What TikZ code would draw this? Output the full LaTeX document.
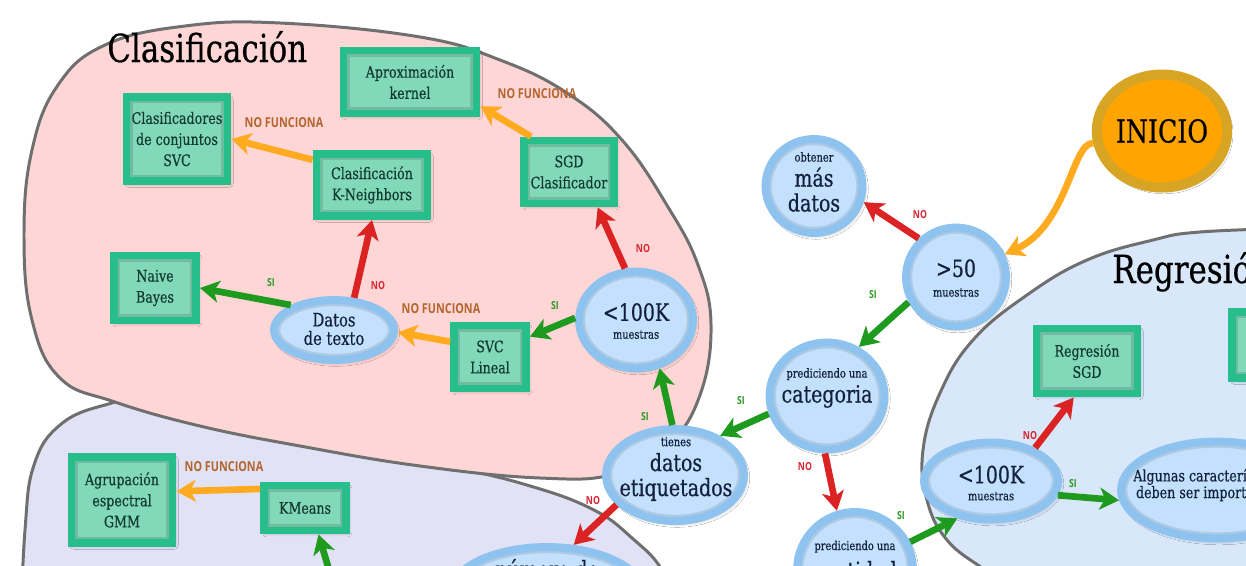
\documentclass[tikz,border=0pt]{standalone}
\usepackage{fontspec}
\setmainfont{DejaVu Serif}[FakeStretch=0.8,FakeBold=0.5]
\newfontfamily\lblfont{Open Sans}[FakeStretch=0.79]
\usetikzlibrary{arrows.meta,shapes.geometric,calc,shadows.blur}
\definecolor{pinkreg}{HTML}{FFD6D6}
\definecolor{lavreg}{HTML}{E2E2F6}
\definecolor{bluereg}{HTML}{D8E7FA}
\definecolor{regline}{HTML}{6F6F6F}
\definecolor{boxline}{HTML}{27BE8C}
\definecolor{boxfill}{HTML}{82D9BA}
\definecolor{boxtext}{HTML}{123A30}
\definecolor{ringblue}{HTML}{8EC3F0}
\definecolor{bfill}{HTML}{C3E0FC}
\definecolor{btext}{HTML}{14213D}
\definecolor{inifill}{HTML}{FFA400}
\definecolor{iniring}{HTML}{D8A424}
\definecolor{agreen}{HTML}{1E9B1E}
\definecolor{ared}{HTML}{DC2323}
\definecolor{aorange}{HTML}{FFAA1F}
\definecolor{sicol}{HTML}{2F9A27}
\definecolor{nocol}{HTML}{D92632}
\definecolor{nfcol}{HTML}{B3652E}
\newcommand\smtxt[1]{{\fontsize{7}{8}\selectfont #1}}
\begin{document}
\begin{tikzpicture}[x=0.02cm,y=-0.02cm,
  region/.style={draw=regline,line width=1.7pt},
  boxinner/.style={path picture={\draw[black,opacity=.13,line width=7pt] (path picture bounding box.south west) rectangle (path picture bounding box.north east);}},
  ellinner/.style={path picture={\draw[black,opacity=.10,line width=7pt] let \p1=($(path picture bounding box.north east)-(path picture bounding box.center)$) in (path picture bounding box.center) ellipse [x radius=\x1, y radius=\y1];}},
  sh/.style={blur shadow={shadow xshift=1.2pt,shadow yshift=-1.5pt,shadow opacity=30,shadow blur steps=6}},
  mbox/.style={rectangle,draw=boxline,line width=4.5pt,fill=boxfill,inner sep=0pt,align=center,text=boxtext,font=\fontsize{9}{12}\selectfont,sh,boxinner},
  bnode/.style={ellipse,draw=ringblue,line width=4.5pt,fill=bfill,inner sep=0pt,sh,ellinner},
  btxt/.style={align=center,text=btext,inner sep=0pt,font=\fontsize{13.5}{14.2}\selectfont},
  lbl/.style={inner sep=0pt,font=\lblfont\bfseries\fontsize{6.3}{7}\selectfont},
  sil/.style={lbl,text=sicol},
  nol/.style={lbl,text=nocol},
  nfl/.style={inner sep=0pt,text=nfcol,font=\lblfont\bfseries\fontsize{7.8}{8}\selectfont},
  arr/.style={line width=3.8pt,-{Stealth[length=11pt,width=12.5pt,inset=3pt]}},
  ga/.style={arr,draw=agreen},
  ra/.style={arr,draw=ared},
  oa/.style={arr,draw=aorange}]
\useasboundingbox (0,0) rectangle (1246,565);
\clip (0,0) rectangle (1246,565);
\fill[white] (0,0) rectangle (1246,565);
% regions
\path[region,fill=lavreg] plot[smooth,tension=0.7] coordinates {(20,640) (25,530) (34,465) (60,425) (105,405) (160,398) (300,418) (420,458) (520,483) (590,508) (632,538) (665,575) (690,640)} -- (690,700) -- (20,700) -- cycle;
\path[region,fill=pinkreg] plot[smooth cycle,tension=0.7] coordinates {(24,235) (32,150) (58,85) (105,45) (185,26) (280,23) (420,37) (500,60) (567,93) (622,140) (668,207) (698,265) (711,325) (700,395) (668,445) (615,474) (540,478) (420,466) (300,446) (200,426) (115,402) (60,378) (32,320)};
\path[region,fill=bluereg] plot[smooth,tension=0.7] coordinates {(1300,228) (1200,232) (1153,240) (1087,260) (1027,295) (973,340) (940,393) (923,450) (927,500) (947,540) (985,570) (1030,600)} -- (1300,650) -- cycle;
% titles
\node[anchor=base west,inner sep=0pt,font=\fontsize{22}{24}\selectfont] (tclas) at (107,62) {Clasificación};
\node[anchor=base west,inner sep=0pt,font=\fontsize{22}{24}\selectfont] (treg) at (1112,283) {Regresión};
% start
\node[ellipse,draw=iniring,line width=5.7pt,fill=inifill,minimum width=2.46cm,minimum height=2.26cm,inner sep=0pt,font=\fontsize{18}{20}\selectfont,sh] (ini) at (1162,131) {INICIO};
% blue decision nodes
\node[bnode,minimum width=2.0cm,minimum height=1.98cm] (n50) at (956,277) {};
\node[bnode,minimum width=1.94cm,minimum height=1.88cm] (mas) at (814,186) {};
\node[bnode,minimum width=2.3cm,minimum height=2.14cm] (cat) at (827,396) {};
\node[bnode,minimum width=2.76cm,minimum height=1.84cm] (etq) at (675,475) {};
\node[bnode,minimum width=2.28cm,minimum height=1.94cm] (c100) at (636,320) {};
\node[bnode,minimum width=2.4cm,minimum height=1.2cm] (txt) at (334,330) {};
\node[bnode,minimum width=2.32cm,minimum height=2.32cm] (cant) at (855,570) {};
\node[bnode,minimum width=2.68cm,minimum height=1.54cm] (r100) at (991,481) {};
\node[bnode,minimum width=3.84cm,minimum height=1.94cm] (alg) at (1217,490) {};
\node[bnode,minimum width=3.84cm,minimum height=1.84cm] (num) at (547,593) {};
% texts of blue nodes
\node[btxt] (mas-t) at (814,182) {\smtxt{obtener}\\más\\datos};
\node[btxt] (cat-t) at (827,388) {\smtxt{prediciendo una}\\categoria};
\node[btxt] (etq-t) at (676,469) {\smtxt{tienes}\\datos\\etiquetados};
\node[btxt] (n50-t) at (956,278) {>50\\[-3pt]\smtxt{muestras}};
\node[btxt] (c100-t) at (636,321) {<100K\\[-4pt]\smtxt{muestras}};
\node[btxt] (r100-t) at (991,483) {<100K\\[-4.5pt]\smtxt{muestras}};
\node[btxt,font=\fontsize{10.5}{10.5}\selectfont] (txt-t) at (334,329) {Datos\\de texto};
\node[btxt,anchor=base] (cant-l1) at (855,550) {\smtxt{prediciendo una}};
\node[btxt,anchor=base] (cant-l2) at (855,579) {cantidad};
\node[btxt,anchor=base] (num-t) at (547,578) {número de};
\node[btxt,anchor=west,font=\fontsize{9}{9.5}\selectfont] (alg-t) at (1133,485) {Algunas características\\deben ser importantes};
% estimator boxes
\node[mbox,minimum width=2.66cm,minimum height=1.26cm] (kern) at (410,82) {Aproximación\\kernel};
\node[mbox,minimum width=2.02cm,minimum height=1.68cm] (ens) at (177,139) {Clasificadores\\de conjuntos\\SVC};
\node[mbox,minimum width=2.22cm,minimum height=1.24cm] (knn) at (372,185) {Clasificación\\K-Neighbors};
\node[mbox,minimum width=1.8cm,minimum height=1.26cm] (sgd) at (569,172) {SGD\\Clasificador};
\node[mbox,minimum width=1.64cm,minimum height=1.3cm] (nb) at (155,288) {Naive\\Bayes};
\node[mbox,minimum width=1.44cm,minimum height=1.26cm] (svc) at (490,357) {SVC\\Lineal};
\node[mbox,minimum width=2.02cm,minimum height=1.72cm] (agr) at (122,500) {Agrupación\\espectral\\GMM};
\node[mbox,minimum width=1.64cm,minimum height=0.9cm] (km) at (305,508) {KMeans};
\node[mbox,minimum width=2.02cm,minimum height=1.3cm] (rsgd) at (1087,361) {Regresión\\SGD};
\node[mbox,minimum width=2.04cm,minimum height=1.32cm] (rbox) at (1283,345) {};
% arrows
\draw[oa] (ini.190) .. controls (1072,142) and (1068,225) .. (n50.25);
\draw[ra] (n50.134) -- (mas.342);
\draw[ga] (n50.208) -- (cat.57);
\draw[ga] (cat.197) -- (etq.41);
\draw[ra] (cat.268) -- (cant.107);
\draw[ga] (etq.93) -- (c100.296);
\draw[ra] (etq.207) -- (num.61);
\draw[ra] (c100.102) -- (sgd.309);
\draw[ga] (c100.178) -- (svc.27);
\draw[oa] (svc.159) -- (txt.358);
\draw[ra] (txt.58) -- (knn.south);
\draw[ga] (txt.150) -- (nb.east);
\draw[oa] (knn.157) -- (ens.east);
\draw[oa] (sgd.137) -- (kern.341);
\draw[oa] (km.157) -- (agr.9);
\coordinate (kmsrc) at (338,600);
\draw[ga] (kmsrc) -- (km.297);
\draw[ra] (r100.37) -- (rsgd.250);
\draw[ga] (r100.348) -- (alg.186);
\draw[ga] (cant.27) -- (r100.228);
% labels
\node[nol] (l1) at (920,215) {NO};
\node[sil] (l2) at (873,295) {SI};
\node[sil] (l3) at (741,401) {SI};
\node[nol] (l4) at (805,467) {NO};
\node[sil] (l5) at (645,417) {SI};
\node[nol] (l6) at (593,501) {NO};
\node[nol] (l7) at (643,249) {NO};
\node[sil] (l8) at (555,306) {SI};
\node[nfl] (l9) at (441,309) {NO FUNCIONA};
\node[nol] (l10) at (378,286) {NO};
\node[sil] (l11) at (271,283) {SI};
\node[nfl] (l12) at (284,123) {NO FUNCIONA};
\node[nfl] (l13) at (537,94) {NO FUNCIONA};
\node[nfl] (l14) at (224,467) {NO FUNCIONA};
\node[nol] (l15) at (1030,436) {NO};
\node[sil] (l16) at (1073,484) {SI};
\node[sil] (l17) at (901,516) {SI};
\end{tikzpicture}
\end{document}
